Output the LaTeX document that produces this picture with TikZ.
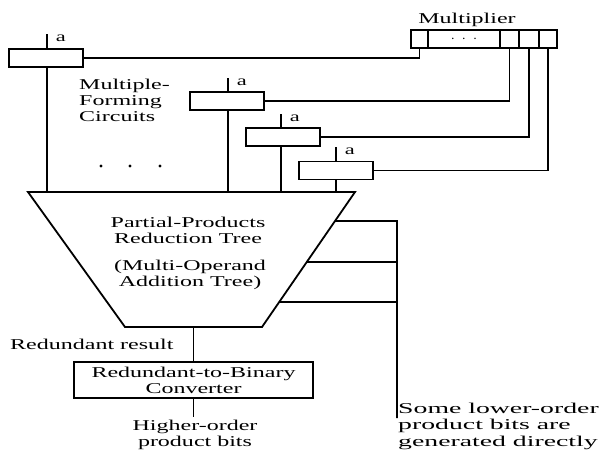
\documentclass[tikz,border=0pt]{standalone}
\usepackage{fontspec}
\setmainfont{Liberation Serif}[FakeStretch=1.6]
\newfontfamily\widefont{Liberation Serif}[FakeStretch=1.85]
\usetikzlibrary{calc}
\begin{document}
\begin{tikzpicture}[x=1pt,y=-1pt,
  every node/.style={font=\fontsize{15}{16}\selectfont, inner sep=0pt},
  wire/.style={line width=1.8pt},
  mbox/.style={draw, line width=1.8pt, minimum width=74pt, minimum height=18pt},
  cell/.style={draw, line width=1.8pt, minimum height=18pt},
  lbl/.style={font=\fontsize{14}{15}\selectfont},
  txt/.style={align=center}
]
\useasboundingbox (0,0) rectangle (600,450);

% multiplier register
\node[cell, minimum width=17pt] (c1) at (419.5,39) {};
\node[cell, minimum width=72pt] (cd) at (464,39) {$\cdot\;\cdot\;\cdot$};
\node[cell, minimum width=19pt] (c2) at (509.5,39) {};
\node[cell, minimum width=20pt] (c3) at (529,39) {};
\node[cell, minimum width=18pt] (c4) at (548,39) {};
\node (mult) at (467,20) {Multiplier};

% multiple-forming boxes
\node[mbox] (b1) at (46,58) {};
\node[mbox] (b2) at (227,101) {};
\node[mbox] (b3) at (283,137) {};
\node[mbox] (b4) at (336,170.5) {};

% stubs with "a"
\coordinate (s1) at (47,34);
\coordinate (s2) at (228,78);
\coordinate (s3) at (281,114);
\coordinate (s4) at (336,147);
\draw[wire] (b1.north -| s1) -- (s1) node[lbl, anchor=north west, xshift=8pt] (a1) {a};
\draw[wire] (b2.north -| s2) -- (s2) node[lbl, anchor=north west, xshift=8pt] (a2) {a};
\draw[wire] (b3.north -| s3) -- (s3) node[lbl, anchor=north west, xshift=8pt] (a3) {a};
\draw[wire] (b4.north -| s4) -- (s4) node[lbl, anchor=north west, xshift=8pt] (a4) {a};

% multiplier bit lines
\draw[wire] (b1.east) -| (c1.south);
\draw[wire] (b2.east) -| (c2.south);
\draw[wire] (b3.east) -| (c3.south);
\draw[wire] (b4.east) -| (c4.south);

% trapezoid
\coordinate (tl) at (28,192);
\coordinate (tr) at (355,192);
\coordinate (br) at (262,327);
\coordinate (bl) at (125,327);
\draw[wire, line join=miter] (tl) -- (tr) -- (br) -- (bl) -- cycle;
\node[txt] (pp1) at (188,230) {Partial-Products\\Reduction Tree};
\node[txt] (pp2) at (190,274.5) {(Multi-Operand\\Addition Tree)};

% vertical lines into tree
\draw[wire] (b1.south -| s1) -- (s1 |- tl);
\draw[wire] (b2.south -| s2) -- (s2 |- tl);
\draw[wire] (b3.south -| s3) -- (s3 |- tl);
\draw[wire] (b4.south -| s4) -- (s4 |- tl);

\node[anchor=west, align=left] (mfc) at (79,100) {Multiple-\\Forming\\Circuits};
\fill (101,166) circle (1.6pt) (130,166) circle (1.6pt) (160,166) circle (1.6pt);

% lower-order bits
\coordinate (r1) at ($(tr)!0.215!(br)$);
\coordinate (r2) at ($(tr)!0.519!(br)$);
\coordinate (r3) at ($(tr)!0.815!(br)$);
\coordinate (v1) at (397,221);
\coordinate (vend) at (397,418);
\draw[wire] (r1) -- (v1) -- (vend);
\draw[wire] (r2) -- (r2 -| v1);
\draw[wire] (r3) -- (r3 -| v1);
\node[anchor=west, align=left, font=\widefont\fontsize{15}{16.5}\selectfont] (low) at (398,426) {Some lower-order\\product bits are\\generated directly};

% converter
\coordinate (bm) at (193.5,327);
\node[draw, line width=1.8pt, minimum width=239pt, minimum height=36pt, txt] (conv) at (193.5,380) {Redundant-to-Binary\\Converter};
\draw[wire] (bm) -- (conv.north);
\node[anchor=west] (rr) at (10,344) {Redundant result};
\coordinate (out) at (193.5,417);
\draw[wire] (conv.south) -- (out);
\node[txt] (hob) at (195,434.5) {Higher-order\\product bits};
\end{tikzpicture}
\end{document}
